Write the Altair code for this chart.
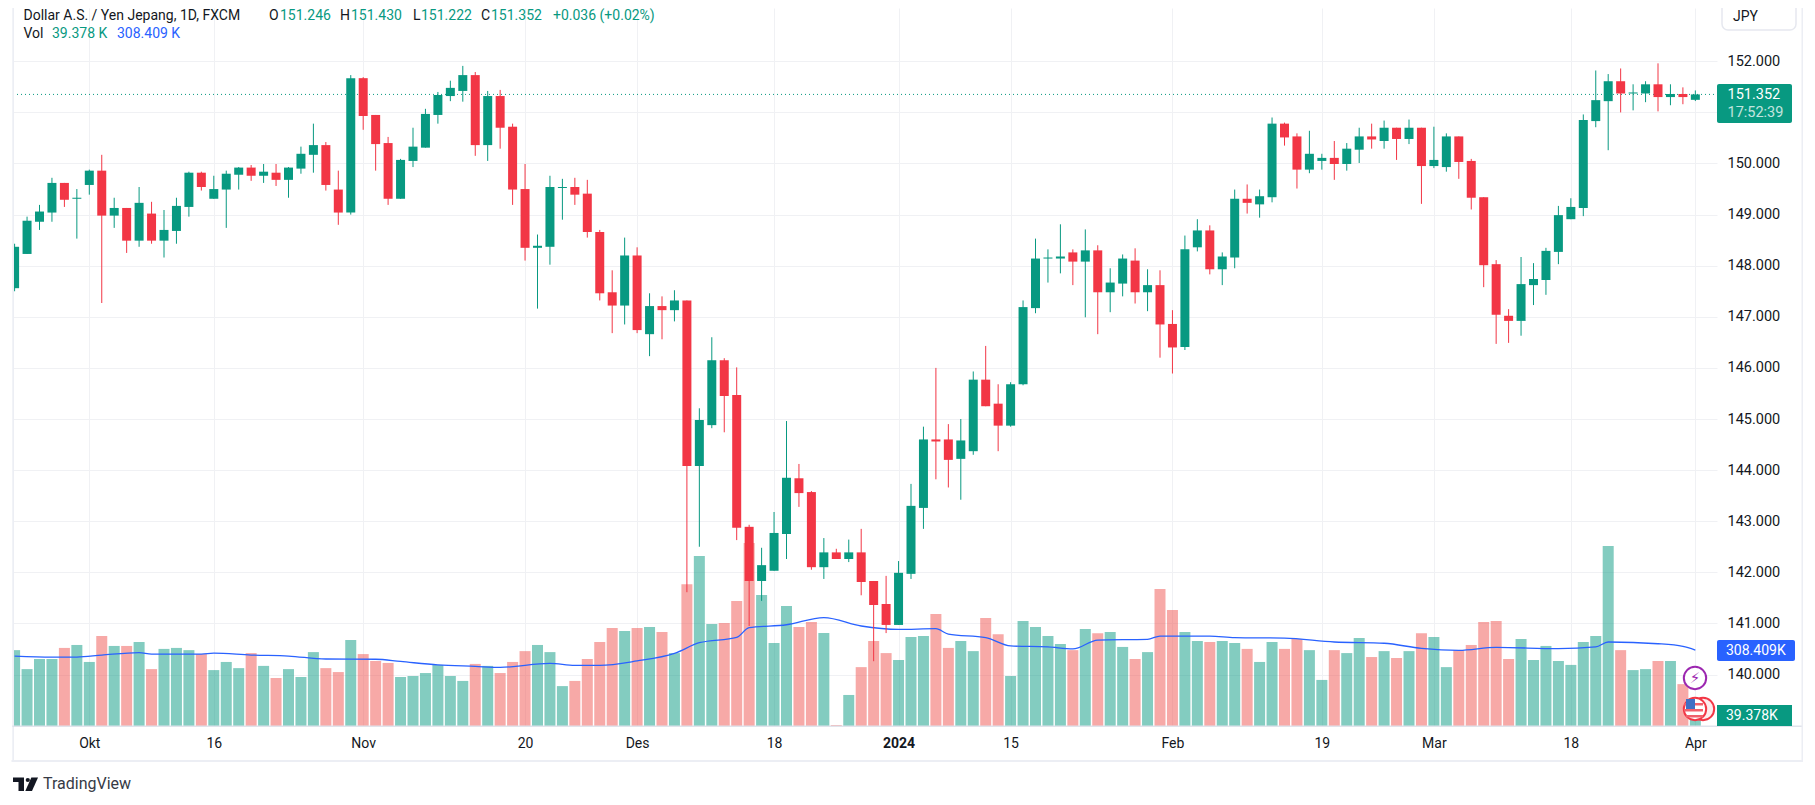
import altair as alt
import pandas as pd

# ---------- chart values ----------
opens = [147.56,148.23,148.86,149.04,149.62,149.31,149.58,149.86,148.98,149.13,148.49,149.02,148.49,148.68,149.15,149.82,149.31,149.49,149.78,149.92,149.76,149.82,149.68,149.90,150.17,150.36,149.49,149.04,151.67,150.95,150.40,149.31,150.05,150.31,150.95,151.32,151.42,151.73,150.36,151.32,150.72,149.50,148.35,148.37,149.52,149.54,149.41,148.66,147.48,147.22,148.20,146.66,147.21,147.13,147.32,144.08,144.88,146.15,145.47,142.89,141.83,142.03,142.75,143.84,143.57,142.10,142.39,142.26,142.39,141.83,141.38,140.97,141.97,143.26,144.60,144.60,144.22,144.37,145.77,145.30,144.87,145.68,147.17,148.14,148.14,148.26,148.08,148.30,147.48,147.65,148.10,147.48,147.62,146.86,146.41,148.36,148.69,147.93,148.16,149.31,149.20,149.34,150.78,150.53,149.88,150.05,150.11,149.99,150.27,150.53,150.44,150.70,150.48,150.70,149.95,149.93,150.53,150.05,149.34,148.03,147.02,146.92,147.62,147.72,148.27,148.91,149.13,150.83,151.22,151.61,151.37,151.37,151.55,151.30,151.36,151.246]
closes = [148.37,148.88,149.06,149.62,149.29,149.33,149.86,148.98,149.13,148.49,149.23,148.49,148.70,149.17,149.82,149.54,149.50,149.80,149.92,149.76,149.84,149.68,149.92,150.19,150.36,149.58,149.04,151.67,150.93,150.38,149.31,150.07,150.33,150.97,151.34,151.48,151.73,150.36,151.32,150.70,149.49,148.35,148.39,149.54,149.54,149.39,148.66,147.46,147.22,148.20,146.74,147.21,147.13,147.32,144.08,144.98,146.15,145.45,142.87,141.83,142.14,142.77,143.85,143.55,142.10,142.39,142.26,142.39,141.81,141.36,140.97,141.99,143.30,144.60,144.56,144.20,144.58,145.77,145.25,144.87,145.68,147.19,148.14,148.16,148.18,148.08,148.30,147.48,147.67,148.14,147.48,147.62,146.85,146.40,148.32,148.69,147.93,148.18,149.31,149.23,149.36,150.78,150.51,149.88,150.19,150.11,149.99,150.29,150.53,150.47,150.70,150.48,150.70,149.95,150.07,150.53,150.03,149.33,148.01,147.04,146.92,147.64,147.74,148.29,148.99,149.15,150.85,151.24,151.61,151.37,151.39,151.55,151.30,151.36,151.30,151.352]
highs = [148.43,148.96,149.19,149.72,149.62,149.50,149.88,150.17,149.33,149.13,149.54,149.25,149.09,149.33,149.84,149.84,149.76,149.86,149.93,149.97,149.99,149.99,149.93,150.33,150.78,150.42,149.86,151.73,151.69,150.95,150.52,150.09,150.70,151.07,151.40,151.62,151.91,151.79,151.42,151.44,150.78,149.99,148.61,149.76,149.70,149.72,149.68,148.70,147.91,148.55,148.36,147.46,147.40,147.52,147.32,145.21,146.60,146.19,146.01,142.93,142.48,143.18,144.96,144.12,143.59,142.67,142.46,142.64,142.85,141.83,141.93,142.22,143.73,144.85,146.00,144.90,145.00,145.93,146.43,145.68,145.72,147.32,148.53,148.32,148.81,148.32,148.71,148.40,147.95,148.22,148.34,147.93,147.91,147.13,148.59,148.91,148.79,148.26,149.49,149.59,149.49,150.90,150.80,150.59,150.64,150.19,150.44,150.40,150.70,150.78,150.84,150.70,150.86,150.70,150.72,150.59,150.53,150.09,149.34,148.11,147.15,148.17,148.05,148.35,149.17,149.32,150.96,151.82,151.75,151.86,151.55,151.61,151.96,151.55,151.49,151.43]
lows = [147.50,148.23,148.70,148.86,149.15,148.53,149.39,147.27,148.74,148.25,148.37,148.43,148.16,148.43,148.96,149.47,149.31,148.74,149.49,149.66,149.62,149.56,149.33,149.80,149.82,149.47,148.80,149.00,150.66,149.86,149.19,149.31,149.93,150.31,150.78,151.22,151.21,150.15,150.05,150.29,149.19,148.10,147.16,148.02,148.90,149.19,148.55,147.32,146.68,146.85,146.68,146.23,146.56,146.91,141.61,142.50,144.82,144.74,142.63,140.95,141.44,142.03,142.26,143.28,142.05,141.87,142.26,142.20,141.55,140.26,140.81,140.97,141.87,142.85,143.82,143.66,143.42,144.30,145.25,144.37,144.85,145.66,147.07,147.67,147.85,147.62,146.99,146.66,147.09,147.40,147.26,147.11,146.20,145.89,146.35,148.28,147.83,147.62,147.95,149.02,148.94,149.24,150.35,149.51,149.81,149.88,149.68,149.86,150.01,150.29,150.29,150.07,150.38,149.21,149.91,149.84,149.70,149.10,147.58,146.47,146.49,146.63,147.23,147.43,148.03,148.91,148.97,150.71,150.26,151.00,151.04,151.20,151.02,151.14,151.16,151.222]
volumes = [308,231,272,272,317,329,260,365,325,325,341,231,313,317,308,292,227,260,235,296,244,195,231,199,300,235,219,349,292,264,256,199,203,215,248,203,183,252,244,215,260,304,329,300,162,183,272,341,398,386,398,402,382,296,576,690,414,418,508,743,532,337,487,402,422,378,4,126,239,345,296,268,361,365,455,317,345,304,438,373,203,426,402,365,333,308,394,377,382,321,272,300,556,471,382,345,341,345,337,313,260,341,313,353,308,187,308,296,357,280,304,276,304,377,361,239,308,329,422,426,272,353,268,325,264,248,341,365,731,308,227,231,264,264,170,39.378]
ma_bars = [-6,-3,-1,1,4,5,9,10,13,16,19,23,25,28,31,33,37,39,41,44,47,49,52,53,56,59,62,65,68,69,72,74,77,79,81,85,86,90,92,96,100,104,107,110,113,118,121,122,126,128,129]
ma_values = [284,280,280,288,298,292,292,296,288,284,272,271,262,248,242,238,254,246,246,264,295,338,360,399,411,440,406,392,395,373,359,325,321,313,349,352,365,365,359,357,341,336,315,307,319,314,321,341,334,323,308.409]
tick_bars = [0,10,22,35,44,55,65,74,87,99,108,119,129]
tick_labels = ["Okt","16","Nov","20","Des","18","2024","15","Feb","19","Mar","18","Apr"]
price_ticks = list(range(140,153))
last_price = 151.352

GREEN, RED, BLUE = "#089981", "#F23645", "#2962FF"
VOL_RED = "#EF5350"
INK, GRID, FRAME = "#131722", "#f0f1f4", "#eceef4"
FONT = "Roboto"

W, H = 1704, 718
x_lo, x_hi = -76.3/12.45, (W-76.3)/12.45
x_scale = alt.Scale(domain=[x_lo, x_hi], nice=False, zero=False, padding=0)
y_scale = alt.Scale(domain=[152-(726-61.3)/51.1, 152+(61.3-8)/51.1], nice=False, zero=False)
v_scale = alt.Scale(domain=[0, H*4.06], nice=False, zero=False)
candle_color = alt.condition("datum.dir === 'up'", alt.value(GREEN), alt.value(RED))
vol_color = alt.condition("datum.dir === 'up'", alt.value(GREEN), alt.value(VOL_RED))

bars = list(range(-6, 130))
df = pd.DataFrame({"k":bars,"o":opens,"h":highs,"l":lows,"c":closes,"v":volumes})
df["dir"] = ["up" if c>=o else "down" for o,c in zip(opens,closes)]
df["lo"] = df[["o","c"]].min(axis=1)
df["hi"] = df[["o","c"]].max(axis=1)
ma_df = pd.DataFrame({"k":ma_bars,"m":ma_values})
base = alt.Chart(df)

labels_js = "{" + ",".join(f"'{b}':'{t}'" for b,t in zip(tick_bars,tick_labels)) + "}"

x_axis = alt.Axis(values=tick_bars, labelExpr=labels_js+"[''+datum.value]", title=None, grid=True,
                  gridColor=GRID, gridWidth=1, domain=False, ticks=False, labelFont=FONT, labelFontSize=14,
                  labelColor=INK, labelPadding=10, labelOverlap=False, labelFlush=False,
                  labelFontWeight={"condition":{"test":"datum.value === 65","value":"bold"},"value":"normal"})
y_axis = alt.Axis(values=price_ticks, format=".3f", orient="right", title=None, grid=True, gridColor=GRID,
                  gridWidth=1, domain=False, ticks=False, labelFont=FONT, labelFontSize=14.5, labelColor=INK,
                  labelPadding=10, labelOverlap=False)
X = lambda f: alt.X(f, scale=x_scale, axis=x_axis)

last = alt.Chart(pd.DataFrame({"p":[last_price],"k0":[x_lo],"k1":[x_hi]})).mark_rule(
    color=GREEN, strokeWidth=1, strokeDash=[1,3]).encode(
    x=X("k0:Q"), x2="k1:Q", y=alt.Y("p:Q", scale=y_scale, axis=y_axis))
vol = base.mark_bar(size=11, opacity=0.5, clip=True).encode(
    x=X("k:Q"), y=alt.Y("v:Q", scale=v_scale, axis=None), color=vol_color)
ma = alt.Chart(ma_df).mark_line(color=BLUE, strokeWidth=1.3, interpolate="monotone", clip=True).encode(
    x=X("k:Q"), y=alt.Y("m:Q", scale=v_scale, axis=None))
wick = base.mark_rule(strokeWidth=1, clip=True).encode(
    x=X("k:Q"), y=alt.Y("l:Q", scale=y_scale, axis=None), y2="h:Q", color=candle_color)
body = base.mark_bar(size=9, clip=True).encode(
    x=X("k:Q"), y=alt.Y("lo:Q", scale=y_scale, axis=None), y2="hi:Q", color=candle_color)

one = alt.Data(values=[{"a":1}])
def px(v): return alt.value(v-13)
def py(v): return alt.value(v-8)
def text(t, x, y, color=INK, size=14, align="left", weight="normal", opacity=1, font=FONT):
    return alt.Chart(one).mark_text(align=align, baseline="middle", font=font, fontSize=size, fontWeight=weight,
                                    color=color, opacity=opacity).encode(text=alt.value(t), x=px(x), y=py(y))
def box(x0, x1, y0, y1, color, radius=0, stroke=None):
    kw = dict(cornerRadius=radius) if radius else {}
    if stroke:
        kw.update(stroke=stroke, strokeWidth=1.5, fill="white")
    else:
        kw.update(color=color)
    return alt.Chart(one).mark_rect(**kw).encode(x=px(x0), x2=px(x1), y=py(y0), y2=py(y1))
def dot(x, y, size, stroke, fill="white", sw=2, shape="circle"):
    return alt.Chart(one).mark_point(shape=shape, size=size, stroke=stroke, fill=fill, filled=True,
                                     strokeWidth=sw, opacity=1).encode(x=px(x), y=py(y))

HY = 15.5
overlays = [
    # frame
    box(12.3, 14, 0, 761, FRAME), box(12.3, 1803, 725.5, 727, "#e0e3eb"),
    box(11.5, 1803, 760, 762, FRAME), box(1801.5, 1803, 0, 762, FRAME),
    # header
    text("Dollar A.S. / Yen Jepang, 1D, FXCM", 23.5, HY),
    text("O", 269, HY), text("151.246", 280, HY, GREEN),
    text("H", 340, HY), text("151.430", 351, HY, GREEN),
    text("L", 413, HY), text("151.222", 421, HY, GREEN),
    text("C", 481, HY), text("151.352", 491, HY, GREEN),
    text("+0.036 (+0.02%)", 553, HY, GREEN),
    text("Vol", 23.5, 34), text("39.378 K", 52, 34, GREEN), text("308.409 K", 117, 34, BLUE),
    # event icons
    dot(1695, 678, 500, "#9c27b0"), text("\u26a1", 1695, 678, "#9c27b0", 15, "center", font="DejaVu Sans"),
    dot(1703, 709, 500, RED, "#fdecee"),
    dot(1695, 709, 500, RED, "#ffffff"),
    box(1684, 1703, 703, 705.5, "#f0606c"), box(1684, 1703, 709, 711.5, "#f0606c"), box(1686, 1703, 715, 717.5, "#f0606c"),
    box(1686, 1695, 699, 709, "#3f6fc4"),
    # right badges
    box(1722, 1796, -4, 30, "white", 6, "#e6e8ef"), text("JPY", 1733, 17),
    box(1717, 1792, 84, 123, GREEN, 2),
    text("151.352", 1727.5, 94.5, "white", 14.5), text("17:52:39", 1727.5, 113, "white", 14.5, opacity=0.75),
    box(1717, 1795, 640, 661, BLUE, 2), text("308.409K", 1726, 650.5, "white", 14),
    box(1717, 1792, 705, 726, GREEN), text("39.378K", 1726, 715.5, "white", 14),
    # footer logo and name
    box(13, 24, 777.5, 782, INK), box(18.5, 24, 782, 791, INK),
    dot(27.8, 780, 18, INK, INK, 0),
    dot(32, 784.2, 180, INK, INK, 0, "M -0.1 -1 L 0.9 -1 L 0 1 L -1 1 Z"),
    text("TradingView", 43, 784, "#363a45", 16),
]

chart = alt.layer(last, vol, ma, wick, body, *overlays).resolve_scale(y="independent").properties(
    width=W, height=H,
    autosize=alt.AutoSizeParams(type="none"),
    padding={"left":5,"top":0,"right":90,"bottom":71},
    background="white",
).configure_view(stroke=None)

chart.save("out.html", embed_options={"renderer":"svg","actions":False})
